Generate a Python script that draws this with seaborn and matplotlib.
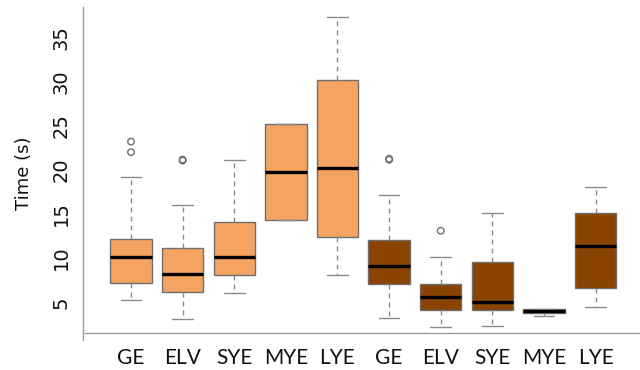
import matplotlib
matplotlib.use("Agg")
import matplotlib.pyplot as plt
import numpy as np
import pandas as pd
import seaborn as sns

# Task labels and the two conditions (light / dark boxes)
tasks = ["GE", "ELV", "SYE", "MYE", "LYE"]
conditions = ["A", "B"]

# Five-number summaries per box: lower whisker, Q1, median, Q3, upper whisker
whisker_low = [5.26, 3.10, 6.00, 14.3, 8.06, 3.19, 2.17, 2.28, 3.48, 4.47]
q1 = [7.15, 6.13, 8.06, 14.3, 12.43, 7.10, 4.16, 4.13, 3.75, 6.65]
median = [10.16, 8.20, 10.10, 19.76, 20.17, 9.10, 5.63, 5.03, 4.05, 11.40]
q3 = [12.20, 11.15, 14.13, 25.20, 30.17, 12.10, 7.10, 9.56, 4.20, 15.15]
whisker_high = [19.20, 16.00, 21.10, 25.20, 37.30, 17.15, 10.10, 15.10, 4.28, 18.00]

# Outlying observations (box index, value)
outlier_box = [0, 0, 1, 1, 5, 5, 6]
outlier_val = [23.2, 22.0, 21.05, 21.15, 21.15, 21.25, 13.1]

colors = {"A": "#F4A460", "B": "#8A4300"}

keys = [f"{t}_{c}" for c in conditions for t in tasks]
rows = []
for i, k in enumerate(keys):
    cond = k.split("_")[1]
    for v in (whisker_low[i], q1[i], median[i], q3[i], whisker_high[i]):
        rows.append({"box": k, "condition": cond, "time": v})
df = pd.DataFrame(rows)
out_df = pd.DataFrame({"box": [keys[i] for i in outlier_box], "time": outlier_val})

sns.set_style("white")
plt.rcParams["font.family"] = ["DejaVu Sans"]

fig = plt.figure(figsize=(6.4, 3.7), dpi=100)
ax = fig.add_axes([83 / 640, 30 / 370, 1 - 83 / 640, 333 / 370])

edge = "#6e6e6e"
sns.boxplot(
    data=df, x="box", y="time", hue="condition", order=keys,
    palette=colors, saturation=1, dodge=False, width=0.8, whis=(0, 100),
    linewidth=1.0, linecolor=edge, showfliers=False, legend=False,
    medianprops=dict(color="black", linewidth=2.4),
    whiskerprops=dict(color="#8a8a8a", linestyle=(0, (3.5, 3)), linewidth=1.0),
    capprops=dict(color="#8a8a8a", linewidth=1.0),
    ax=ax,
)
sns.scatterplot(
    data=out_df, x="box", y="time", marker="o", s=22,
    facecolor="none", edgecolor="#6e6e6e", linewidth=1.0, ax=ax, zorder=4,
)

ax.set_xlim(-0.93, 9.86)
ax.set_ylim(0.73, 38.44)
ax.set_yticks([5, 10, 15, 20, 25, 30, 35])
ax.set_xticks(range(len(keys)))
ax.set_xticklabels(tasks * 2)
ax.set_xlabel("")
ax.set_ylabel("Time (s)", fontsize=13, labelpad=13, color="#111111")

for s in ("top", "right"):
    ax.spines[s].set_visible(False)
for s in ("left", "bottom"):
    ax.spines[s].set_color("#9a9a9a")
    ax.spines[s].set_linewidth(1.0)
ax.spines["bottom"].set_position(("data", 1.53))
ax.spines["bottom"].set_bounds(-0.9, 9.86)
ax.tick_params(axis="y", length=4, width=1, color="#9a9a9a", pad=5,
               labelcolor="#111111", labelsize=14, labelrotation=90)
for lab in ax.get_yticklabels():
    lab.set_va("center")
ax.tick_params(axis="x", length=6, width=1, color="#9a9a9a", pad=5,
               labelcolor="#111111", labelsize=15, labelfontfamily="Lato")

fig.savefig("out.png", dpi=100)
